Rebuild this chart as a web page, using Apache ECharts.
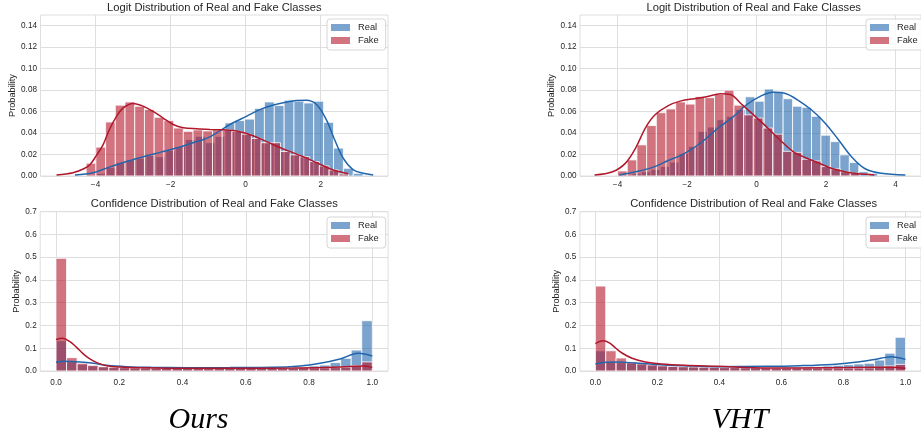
<!DOCTYPE html>
<html>
<head>
<meta charset="utf-8">
<script src="https://cdn.jsdelivr.net/npm/echarts@6/dist/echarts.min.js"></script>
<style>html,body{margin:0;padding:0;background:#fff;}#c{width:921px;height:442px;}</style>
</head>
<body>
<div id="c"></div>
<script>
// ---------------- DATA ----------------
const seriesNames = ['Real', 'Fake'];
const panelTitles = ['Logit Distribution of Real and Fake Classes', 'Confidence Distribution of Real and Fake Classes'];
const methodNames = ['Ours', 'VHT'];
const yLabel = 'Probability';

const logitYTicks = [0, 0.02, 0.04, 0.06, 0.08, 0.10, 0.12, 0.14];
const logitXTicks = [-4, -2, 0, 2];
const logitXTicksVHT = [-4, -2, 0, 2, 4];
const confYTicks = [0, 0.1, 0.2, 0.3, 0.4, 0.5, 0.6, 0.7];
const confXTicks = [0, 0.2, 0.4, 0.6, 0.8, 1.0];

// Logit histograms (Ours): bin start, bin width, heights
const oursLogitRealStart = -3.97, oursLogitRealWidth = 0.263;
const oursLogitReal = [0.0025, 0.008, 0.0125, 0.015, 0.0166, 0.019, 0.018, 0.024, 0.0275, 0.034, 0.037, 0.031, 0.037, 0.0494, 0.0516, 0.053, 0.063, 0.069, 0.0656, 0.0706, 0.0697, 0.068, 0.0697, 0.050, 0.026, 0.0072, 0.0025];
const oursLogitFakeStart = -4.25, oursLogitFakeWidth = 0.259;
const oursLogitFake = [0.0119, 0.0269, 0.0503, 0.066, 0.069, 0.065, 0.062, 0.0547, 0.0516, 0.0447, 0.0416, 0.043, 0.042, 0.043, 0.043, 0.0416, 0.039, 0.035, 0.031, 0.031, 0.0228, 0.0197, 0.018, 0.0134, 0.0094, 0.0056, 0.0019];
// Logit KDE (Ours)
const oursLogitRealKde = [[-4.55,0.001],[-4.06,0.003],[-3.62,0.0085],[-3.17,0.0135],[-2.73,0.018],[-2.28,0.022],[-1.84,0.026],[-1.40,0.031],[-1.04,0.035],[-0.69,0.042],[-0.42,0.048],[0.02,0.0556],[0.46,0.063],[0.91,0.0675],[1.35,0.0703],[1.62,0.0706],[1.89,0.0666],[2.15,0.0525],[2.37,0.034],[2.60,0.0166],[2.86,0.006],[3.13,0.0025],[3.40,0.001]];
const oursLogitFakeKde = [[-5.04,0.001],[-4.60,0.003],[-4.30,0.007],[-4.15,0.0105],[-3.97,0.0195],[-3.80,0.029],[-3.62,0.044],[-3.44,0.0556],[-3.26,0.0634],[-3.00,0.0675],[-2.73,0.065],[-2.46,0.060],[-2.20,0.054],[-1.93,0.048],[-1.66,0.045],[-1.30,0.044],[-0.95,0.0434],[-0.60,0.043],[-0.33,0.0425],[-0.07,0.0406],[0.20,0.0375],[0.56,0.032],[0.91,0.0265],[1.27,0.0215],[1.63,0.0166],[1.98,0.011],[2.34,0.0056],[2.74,0.002]];

// Logit histograms (VHT)
const vhtLogitRealStart = -3.86, vhtLogitRealWidth = 0.272;
const vhtLogitReal = [0.001, 0.0025, 0.004, 0.006, 0.009, 0.013, 0.021, 0.0275, 0.0415, 0.0456, 0.0525, 0.0556, 0.062, 0.0738, 0.0697, 0.081, 0.079, 0.072, 0.065, 0.064, 0.0556, 0.038, 0.032, 0.0197, 0.0125, 0.004, 0.0025];
const vhtLogitFakeStart = -4.0, vhtLogitFakeWidth = 0.279;
const vhtLogitFake = [0.0047, 0.015, 0.029, 0.047, 0.059, 0.0625, 0.069, 0.067, 0.074, 0.073, 0.076, 0.080, 0.066, 0.057, 0.054, 0.0447, 0.039, 0.023, 0.022, 0.0156, 0.014, 0.0088, 0.0066, 0.004, 0.0025];
const vhtLogitRealKde = [[-3.95,0.001],[-3.48,0.004],[-3.01,0.0078],[-2.54,0.0144],[-2.07,0.021],[-1.60,0.031],[-1.13,0.044],[-0.66,0.0556],[-0.28,0.0666],[0.09,0.074],[0.47,0.078],[0.85,0.0766],[1.22,0.070],[1.60,0.061],[1.98,0.049],[2.35,0.034],[2.73,0.018],[3.11,0.007],[3.58,0.0025],[4.28,0.001]];
const vhtLogitFakeKde = [[-4.66,0.001],[-4.14,0.004],[-3.77,0.012],[-3.48,0.026],[-3.20,0.0447],[-2.92,0.057],[-2.54,0.0656],[-2.17,0.070],[-1.79,0.072],[-1.41,0.074],[-1.04,0.0766],[-0.75,0.076],[-0.47,0.068],[-0.09,0.057],[0.28,0.046],[0.66,0.034],[1.04,0.023],[1.41,0.017],[1.79,0.012],[2.17,0.007],[2.54,0.004],[2.92,0.002],[3.39,0.001]];

// Confidence histograms: 30 bins on [0, 1]
const confStart = 0, confWidth = 0.033333;
const oursConfReal = [0.133, 0.041, 0.029, 0.022, 0.018, 0.015, 0.014, 0.013, 0.013, 0.012, 0.012, 0.012, 0.012, 0.012, 0.012, 0.012, 0.013, 0.013, 0.014, 0.014, 0.015, 0.016, 0.017, 0.019, 0.022, 0.026, 0.037, 0.056, 0.092, 0.221];
const oursConfFake = [0.495, 0.0586, 0.034, 0.025, 0.019, 0.016, 0.015, 0.014, 0.014, 0.013, 0.013, 0.013, 0.013, 0.013, 0.013, 0.013, 0.013, 0.013, 0.013, 0.013, 0.013, 0.013, 0.013, 0.014, 0.014, 0.014, 0.015, 0.017, 0.024, 0.040];
const vhtConfReal = [0.089, 0.041, 0.037, 0.034, 0.030, 0.026, 0.023, 0.021, 0.019, 0.018, 0.018, 0.018, 0.017, 0.017, 0.017, 0.017, 0.017, 0.017, 0.018, 0.018, 0.019, 0.020, 0.022, 0.025, 0.028, 0.031, 0.034, 0.048, 0.078, 0.148];
const vhtConfFake = [0.373, 0.089, 0.057, 0.040, 0.032, 0.027, 0.023, 0.020, 0.019, 0.018, 0.017, 0.016, 0.015, 0.015, 0.014, 0.014, 0.014, 0.013, 0.013, 0.013, 0.013, 0.013, 0.013, 0.013, 0.013, 0.013, 0.014, 0.016, 0.022, 0.029];
const oursConfRealKde = [[0,0.038],[0.025,0.0425],[0.076,0.0395],[0.118,0.034],[0.16,0.025],[0.223,0.019],[0.30,0.016],[0.413,0.0146],[0.55,0.015],[0.687,0.016],[0.771,0.022],[0.835,0.034],[0.898,0.053],[0.956,0.078],[1.0,0.066]];
const oursConfFakeKde = [[0,0.138],[0.021,0.1435],[0.044,0.129],[0.065,0.104],[0.086,0.075],[0.107,0.053],[0.129,0.037],[0.16,0.023],[0.202,0.0176],[0.266,0.0146],[0.413,0.012],[0.60,0.012],[0.75,0.013],[0.90,0.018],[0.97,0.022],[1.0,0.016]];
const vhtConfRealKde = [[0,0.031],[0.034,0.038],[0.076,0.0395],[0.129,0.035],[0.192,0.029],[0.287,0.0234],[0.393,0.019],[0.554,0.0205],[0.659,0.0234],[0.764,0.029],[0.838,0.038],[0.901,0.051],[0.954,0.063],[1.0,0.051]];
const vhtConfFakeKde = [[0,0.12],[0.024,0.133],[0.045,0.124],[0.066,0.10],[0.087,0.078],[0.118,0.056],[0.161,0.04],[0.213,0.031],[0.287,0.025],[0.393,0.0205],[0.554,0.013],[0.75,0.014],[0.90,0.016],[0.954,0.017],[1.0,0.012]];

// ---------------- STYLE / LAYOUT ----------------
const FONT = '"Liberation Sans", Arial, sans-serif';
const TXT = '#262626';
const GRIDC = '#dedede';
const realLine = '#2166ac', fakeLine = '#b2182b';
const realFill = 'rgba(33,102,172,0.6)', fakeFill = 'rgba(178,24,43,0.6)';

function bins(start, width, values) {
  return values.map((v, i) => [start + i * width, start + (i + 1) * width, v]);
}
function histItem(fill) {
  return function (params, api) {
    const a = api.coord([api.value(0), api.value(2)]);
    const b = api.coord([api.value(1), 0]);
    return { type: 'rect', shape: { x: a[0], y: a[1], width: b[0] - a[0], height: b[1] - a[1] },
      style: { fill: fill, stroke: '#ffffff', lineWidth: 0.8 } };
  };
}
const minus = v => String(v).replace('-', '\u2212');

const grids = [
  { left: 40.5, top: 15, width: 347.5, height: 161 },
  { left: 580, top: 15, width: 347.6, height: 161 },
  { left: 40.2, top: 211.7, width: 347.9, height: 159.3 },
  { left: 579.9, top: 211.7, width: 348.3, height: 159.3 }
].map(g => Object.assign(g, { show: true, borderColor: GRIDC, borderWidth: 1, backgroundColor: 'transparent' }));

function xAxis(gi, min, max, ticks, fmt, margin) {
  return { type: 'value', gridIndex: gi, min: min, max: max,
    axisLine: { show: false }, axisTick: { show: false, customValues: ticks },
    splitLine: { show: true, lineStyle: { color: GRIDC, width: 1 } },
    axisLabel: { customValues: ticks, formatter: fmt, fontSize: 8.2, color: TXT, fontFamily: FONT, margin: margin } };
}
function yAxis(gi, max, ticks, fmt, gap) {
  return { type: 'value', gridIndex: gi, min: 0, max: max,
    name: yLabel, nameLocation: 'middle', nameRotate: 90, nameGap: gap,
    nameTextStyle: { fontSize: 9.2, color: TXT, fontFamily: FONT },
    axisLine: { show: false }, axisTick: { show: false, customValues: ticks },
    splitLine: { show: true, lineStyle: { color: GRIDC, width: 1 } },
    axisLabel: { customValues: ticks, formatter: fmt, fontSize: 8.2, color: TXT, fontFamily: FONT, margin: 3.5 } };
}
const f2 = v => v.toFixed(2), f1 = v => v.toFixed(1), fi = v => minus(Math.round(v));

const xAxes = [
  xAxis(0, -5.467, 3.795, logitXTicks, fi, 4.5),
  xAxis(1, -5.08, 4.73, logitXTicksVHT, fi, 4.5),
  xAxis(2, -0.05, 1.05, confXTicks, f1, 7.5),
  xAxis(3, -0.05, 1.05, confXTicks, f1, 7.5)
];
const yAxes = [
  yAxis(0, 0.15, logitYTicks, f2, 23.7),
  yAxis(1, 0.15, logitYTicks, f2, 23.7),
  yAxis(2, 0.7, confYTicks, f1, 19.3),
  yAxis(3, 0.7, confYTicks, f1, 19.3)
];

function hist(gi, name, data, fill, z) {
  return { type: 'custom', name: name, xAxisIndex: gi, yAxisIndex: gi, z: z,
    renderItem: histItem(fill), itemStyle: { color: fill }, data: data, clip: true,
    dimensions: ['x0', 'x1', 'y'], encode: { x: [0, 1], y: 2 }, silent: true };
}
function kde(gi, name, data, color) {
  return { type: 'line', name: name, xAxisIndex: gi, yAxisIndex: gi, z: 5, data: data,
    smooth: 0.35, showSymbol: false, symbol: 'none', lineStyle: { color: color, width: 1.5 }, silent: true };
}

const series = [
  hist(0, seriesNames[0], bins(oursLogitRealStart, oursLogitRealWidth, oursLogitReal), realFill, 2),
  hist(0, seriesNames[1], bins(oursLogitFakeStart, oursLogitFakeWidth, oursLogitFake), fakeFill, 3),
  kde(0, 'Real KDE', oursLogitRealKde, realLine),
  kde(0, 'Fake KDE', oursLogitFakeKde, fakeLine),
  hist(1, seriesNames[0], bins(vhtLogitRealStart, vhtLogitRealWidth, vhtLogitReal), realFill, 2),
  hist(1, seriesNames[1], bins(vhtLogitFakeStart, vhtLogitFakeWidth, vhtLogitFake), fakeFill, 3),
  kde(1, 'Real KDE', vhtLogitRealKde, realLine),
  kde(1, 'Fake KDE', vhtLogitFakeKde, fakeLine),
  hist(2, seriesNames[0], bins(confStart, confWidth, oursConfReal), realFill, 2),
  hist(2, seriesNames[1], bins(confStart, confWidth, oursConfFake), fakeFill, 3),
  kde(2, 'Real KDE', oursConfRealKde, realLine),
  kde(2, 'Fake KDE', oursConfFakeKde, fakeLine),
  hist(3, seriesNames[0], bins(confStart, confWidth, vhtConfReal), realFill, 2),
  hist(3, seriesNames[1], bins(confStart, confWidth, vhtConfFake), fakeFill, 3),
  kde(3, 'Real KDE', vhtConfRealKde, realLine),
  kde(3, 'Fake KDE', vhtConfFakeKde, fakeLine)
];

function legend(left, top) {
  return { left: left, top: top, orient: 'vertical', itemWidth: 19, itemHeight: 7, itemGap: 4,
    padding: [4, 7, 5, 4], borderColor: '#d6d6d6', borderWidth: 1, borderRadius: 3,
    backgroundColor: 'rgba(255,255,255,0.85)', selectedMode: false, icon: 'rect',
    textStyle: { fontSize: 9.3, color: TXT, fontFamily: FONT, padding: [0, 0, 0, 3] },
    data: [ { name: seriesNames[0], itemStyle: { color: realFill, borderWidth: 0 } },
            { name: seriesNames[1], itemStyle: { color: fakeFill, borderWidth: 0 } } ] };
}

function label(text, x, y, size) {
  return { type: 'text', x: x, y: y, silent: true,
    style: { text: text, align: 'center', verticalAlign: 'middle', fontSize: size, fontFamily: FONT, fill: TXT } };
}
const graphic = [
  label(panelTitles[0], 214.3, 7.5, 11.2),
  label(panelTitles[0], 753.7, 7.5, 11.2),
  label(panelTitles[1], 214.3, 203.5, 11.2),
  label(panelTitles[1], 753.7, 203.5, 11.2),
  { type: 'text', x: 198.5, y: 420.5, silent: true,
    style: { text: methodNames[0], align: 'center', verticalAlign: 'middle', fontSize: 30, fontStyle: 'italic', fontFamily: '"Liberation Serif", "Times New Roman", serif', fill: '#000' } },
  { type: 'text', x: 740, y: 420.5, silent: true,
    style: { text: methodNames[1], align: 'center', verticalAlign: 'middle', fontSize: 30, fontStyle: 'italic', fontFamily: '"Liberation Serif", "Times New Roman", serif', fill: '#000' } }
];

const chart = echarts.init(document.getElementById('c'), null, { renderer: 'canvas' });
chart.setOption({
  animation: false,
  backgroundColor: '#ffffff',
  grid: grids,
  xAxis: xAxes,
  yAxis: yAxes,
  legend: [legend(327, 19), legend(866, 19), legend(327, 217), legend(866, 217)],
  series: series,
  graphic: graphic
});
</script>
</body>
</html>
